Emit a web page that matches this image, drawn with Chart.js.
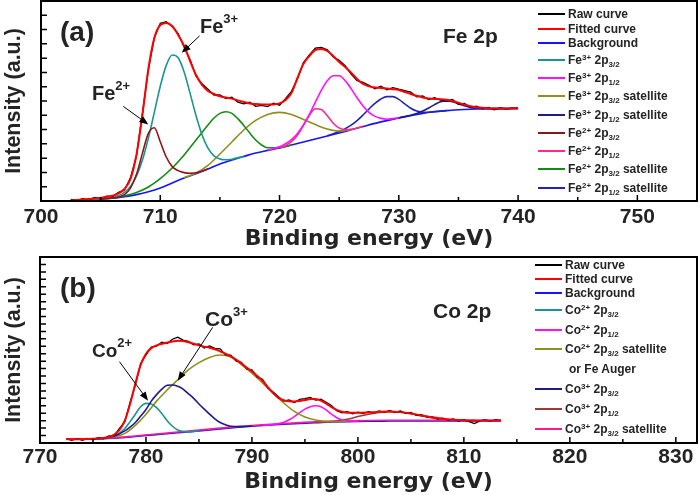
<!DOCTYPE html>
<html>
<head>
<meta charset="utf-8">
<script src="https://cdn.jsdelivr.net/npm/chart.js@4.4.1/dist/chart.umd.min.js"></script>
<style>
  body { margin: 0; background: #fff; }
  #page { position: relative; width: 700px; height: 495px; font-family: 'Liberation Sans', Arial, sans-serif; color: #242424; }
  canvas { position: absolute; left: 0; }
  .lbl { position: absolute; font-weight: bold; line-height: 1; white-space: nowrap; }
  .lbl sup { font-size: 13px; vertical-align: baseline; position: relative; top: -10px; }
  .legend { position: absolute; font-size: 12px; font-weight: bold; }
  .legend .row { display: flex; align-items: center; white-space: nowrap; }
  .legend .txt { line-height: 14px; }
  .legend .sw { width: 27px; height: 2px; margin-right: 3px; flex: none; }
  .legend sup, .legend sub { font-size: 8px; vertical-align: baseline; position: relative; line-height: 0; }
  .legend sup { top: -4px; }
  .legend sub { top: 3px; }
</style>
</head>
<body>
<div id="page">
  <canvas id="chartFe" width="700" height="252" style="top:0"></canvas>
  <canvas id="chartCo" width="700" height="243" style="top:252px"></canvas>

  <div class="lbl" style="left:60px;top:18px;font-size:28px">(a)</div>
  <div class="lbl" style="left:443px;top:25px;font-size:21px">Fe 2p</div>
  <div class="lbl" style="left:200px;top:16px;font-size:20px">Fe<sup>3+</sup></div>
  <div class="lbl" style="left:92px;top:83px;font-size:20px">Fe<sup>2+</sup></div>

  <div class="lbl" style="left:60px;top:274px;font-size:28px">(b)</div>
  <div class="lbl" style="left:433px;top:300px;font-size:21px">Co 2p</div>
  <div class="lbl" style="left:92px;top:341px;font-size:19px">Co<sup>2+</sup></div>
  <div class="lbl" style="left:205px;top:308px;font-size:21px">Co<sup>3+</sup></div>

  <div class="legend" id="legendFe" style="left:538px;top:7px"></div>
  <div class="legend" id="legendCo" style="left:535px;top:258px"></div>
</div>

<script>
// ---------- Fe 2p data (binding energy eV, intensity a.u.) ----------
const feRaw = [[702.5,0.8],[703,0.2],[703.5,1.2],[704,0.5],[704.5,1.8],[705,1.1],[705.5,2.4],[706,2.2],[706.5,4.3],[707,5.5],[707.5,11.6],[708,22.4],[708.5,43.6],[709,65.5],[709.5,81.6],[710,88.9],[710.5,89.6],[711,87.2],[711.5,83.7],[712,77],[712.5,70.6],[713,62.4],[713.5,58.6],[714,55.9],[714.5,53],[715,53.1],[715.5,51.2],[716,51.9],[716.5,49.4],[717,48.6],[717.5,49.4],[718,47.3],[718.5,47.8],[719,47.2],[719.5,48.9],[720,47.9],[720.5,51.2],[721,54.8],[721.5,61],[722,69.2],[722.5,73.1],[723,76.4],[723.5,76.8],[724,75.6],[724.5,72],[725,70.3],[725.5,67.6],[726,63.4],[726.5,60.2],[727,59.3],[727.5,57.9],[728,56.1],[728.5,57.4],[729,55.6],[729.5,56.7],[730,55.9],[730.5,55.2],[731,54.4],[731.5,52.1],[732,52.5],[732.5,50.7],[733,51.6],[733.5,50.5],[734,49.9],[734.5,50.8],[735,48.4],[735.5,48.8],[736,46.8],[736.5,47.4],[737,46.1],[737.5,46.8],[738,45.6],[738.5,46.6],[739,45.9],[739.5,46.5],[740,46.3]];
const feFit = [[702.5,0.3],[703,0.5],[704,1.0],[705,1.6],[706,2.6],[706.5,3.8],[707,6],[707.5,11],[708,23],[708.5,43],[709,66],[709.5,81.5],[710,88],[710.5,89],[711,87.5],[711.5,83],[712,77.5],[712.5,70],[713,63],[713.5,58],[714,55],[714.5,53.5],[715,52.3],[715.5,51.7],[716,51.2],[716.5,50.3],[717,49.5],[717.5,48.8],[718,48.5],[718.5,48.3],[719,48.2],[719.5,48.3],[720,48.8],[720.5,50.5],[721,54],[721.5,61.5],[722,68.5],[722.5,72.5],[723,75.5],[723.5,76],[724,75],[724.5,72.5],[725,69.5],[725.5,67],[726,64.2],[726.5,61],[727,58.5],[727.5,57.3],[728,56.8],[728.5,56.5],[729,56.2],[729.5,55.9],[730,55.5],[730.5,54.5],[731,53.5],[731.5,52.6],[732,51.8],[732.5,51.3],[733,51],[733.5,50.9],[734,50.6],[734.5,50],[735,49.1],[735.5,48.2],[736,47.4],[736.5,46.9],[737,46.6],[738,46.2],[739,46.2],[740,46.3]];
const feBg = [[702.5,0.3],[703,0.4],[704,0.6],[705,0.9],[706,1.4],[707,2.2],[708,3.2],[709,4.6],[710,6.5],[711,9],[712,11.5],[713,13.6],[714,16],[715,18.5],[716,20.5],[717,22.3],[718,24],[719,25.3],[720,26.5],[721,28],[722,29.5],[723,31],[724,32.5],[725,34],[726,35.6],[727,37.2],[728,38.8],[729,40.2],[730,41.5],[731,42.7],[732,43.8],[733,44.6],[734,45.2],[735,45.6],[736,45.9],[737,46.1],[738,46.2],[739,46.2],[740,46.3]];
const feFe3p32 = [[704,0.6],[705,1.0],[706,1.7],[706.5,2.7],[707,4.3],[707.5,7.3],[708,12.4],[708.5,20.4],[709,31.3],[709.5,44.3],[710,57.4],[710.5,67.8],[711,73],[711.5,71.6],[712,64.5],[712.5,53.8],[713,42.6],[713.5,33.1],[714,26.4],[714.5,22.6],[715,21],[715.5,20.6],[716,20.9],[717,22.3]];
const feFe3p12 = [[719,25.4],[720,27.1],[720.5,28.6],[721,30.7],[721.5,33.8],[722,38],[722.5,43.3],[723,49.4],[723.5,55.3],[724,60.1],[724.5,62.6],[725,62.6],[725.5,60.2],[726,56.2],[726.5,51.6],[727,47.5],[727.5,44.3],[728,42.3],[728.5,41.3],[729,40.9],[730,41.6]];
const feFe3sat32 = [[712,11.6],[713,14],[714,17.8],[715,23.5],[716,29.5],[717,35.5],[718,40.3],[719,43.3],[720,44.3],[721,43.3],[722,40.8],[723,38.2],[724,36],[725,35],[726,35.7]];
const feFe3sat12 = [[730,41.6],[730.5,42.2],[731,42.9],[731.5,43.8],[732,45],[732.5,46.5],[733,48.2],[733.5,49.6],[734,50],[734.5,49.6],[735,48.6],[735.5,47.6],[736,46.8],[736.5,46.4],[737,46.2],[738,46.2],[739,46.2],[740,46.3]];
const feFe2p32 = [[705,1.0],[706,1.5],[706.5,2.0],[707,3.2],[707.5,6.4],[708,13.2],[708.5,23.8],[709,33.8],[709.5,36.6],[710,29.6],[710.5,22],[711,17.2],[711.5,15.2],[712,14.2],[712.5,13.9],[713,14.1],[714,16]];
const feFe2p12 = [[720,26.6],[720.5,27.7],[721,29.7],[721.5,32.9],[722,37.8],[722.5,42.9],[723,46.1],[723.5,45.7],[724,42.6],[724.5,38.9],[725,36.5],[725.5,35.7],[726,35.8],[727,37.3]];
const feFe2sat32 = [[706,1.5],[707,2.6],[708,4.2],[709,7],[710,11.2],[711,16.5],[712,23],[713,30.5],[714,38],[714.5,41.5],[715,43.8],[715.5,44.6],[716,43.8],[716.5,41.2],[717,37.8],[717.5,34],[718,30.5],[718.5,28],[719,26.6],[720,26.7],[721,28.1]];
const feFe2sat12 = [[724,32.6],[725,34.7],[725.5,36.1],[726,37.9],[726.5,40.2],[727,43],[727.5,46],[728,48.8],[728.5,51],[729,52.2],[729.5,52.2],[730,50.8],[730.5,48.6],[731,46.4],[731.5,45],[732,44.4],[732.5,44.4],[733,44.7],[734,45.2]];

// ---------- Co 2p data ----------
const coRaw = [[772.5,2.4],[773,1.4],[773.5,2.3],[774,1.5],[774.5,2.5],[775,1.7],[775.5,2.9],[776,2.2],[776.5,3.8],[777,4.0],[777.5,7.8],[778,11.3],[778.5,21.8],[779,31.2],[779.5,42.7],[780,47.3],[780.5,51.6],[781,52.1],[781.5,54.2],[782,53.5],[782.5,55.8],[783,56.9],[783.5,55.3],[784,54.6],[784.5,52.8],[785,53.3],[785.5,51.1],[786,52.2],[786.5,50.9],[787,50.6],[787.5,47.4],[788,47.3],[788.5,44.1],[789,43.4],[789.5,39.8],[790,39.3],[790.5,35.4],[791,34.2],[791.5,29.5],[792,27.4],[792.5,24.9],[793,22.5],[793.5,23.2],[794,21.8],[794.5,23.4],[795,23.8],[795.5,24.5],[796,23.1],[796.5,23.5],[797,21.9],[797.5,20.2],[798,17.4],[798.5,16.2],[799,16.9],[799.5,15.7],[800,16.6],[800.5,15.8],[801,16.9],[801.5,16.2],[802,17.3],[802.5,16.5],[803,17.5],[803.5,16.4],[804,17.2],[804.5,15.9],[805,16.4],[805.5,14.9],[806,15.2],[806.5,13.9],[807,14.2],[807.5,12.9],[808,13.4],[808.5,12.3],[809,12.9],[809.5,11.8],[810,12.6],[810.5,11.5],[811,10.4],[811.5,11.9],[812,12.5],[812.5,11.8],[813,12.6],[813.5,12.1]];
const coFit = [[772.5,2.0],[773.5,2.0],[774.5,2.1],[775.5,2.4],[776,2.7],[776.5,3.2],[777,4.5],[777.5,7],[778,12],[778.5,21],[779,32],[779.5,42],[780,48],[780.5,51],[781,52.5],[781.5,53.4],[782,54],[782.5,54.6],[783,55],[783.5,54.8],[784,54.2],[784.5,53.4],[785,52.5],[785.5,51.8],[786,51.2],[786.5,50.4],[787,49.3],[787.5,48],[788,46.6],[788.5,44.8],[789,42.8],[789.5,40.5],[790,38.5],[790.5,36],[791,33.5],[791.5,30],[792,26.8],[792.5,24.3],[793,23],[793.5,22.4],[794,22.3],[794.5,22.6],[795,23.1],[795.5,23.6],[796,23.6],[796.5,22.8],[797,21.2],[797.5,19.3],[798,17.8],[798.5,16.8],[799,16.3],[800,16.2],[801,16.4],[802,16.7],[803,16.9],[804,16.6],[805,15.9],[806,14.8],[807,13.8],[808,13],[809,12.5],[810,12.2],[811,12.1],[813.5,12.1]];
const coBg = [[772.5,2],[775,2.1],[777,2.6],[779,3.5],[781,4.5],[783,5.5],[785,6.5],[787,7.6],[789,8.6],[791,9.4],[793,10.1],[795,10.7],[797,11.2],[799,11.5],[801,11.7],[803,11.8],[805,11.9],[807,11.9],[809,11.9],[811,11.9],[813.5,11.9]];
const coCo2p32 = [[774,2.1],[775,2.2],[776,2.5],[777,3.8],[777.5,5.3],[778,7.8],[778.5,11.5],[779,15.5],[779.5,19.5],[780,21.3],[780.5,21],[781,19],[781.5,15.8],[782,12],[782.5,9],[783,7],[783.5,6.2],[784,6],[785,6.6]];
const coCo2p12 = [[791,9.5],[792,9.9],[793,11.2],[793.5,12.5],[794,14.2],[794.5,16.3],[795,18.2],[795.5,19.5],[796,20],[796.5,19.5],[797,17.8],[797.5,15.5],[798,13.6],[798.5,12.3],[799,11.7],[800,11.7]];
const coCo2sat = [[775,2.2],[776,2.6],[777,3.3],[778,5.2],[779,9.5],[780,15.5],[781,22.5],[782,28.5],[783,34],[784,39.3],[785,43.2],[786,46],[787,47.3],[788,46.2],[789,42.2],[790,37.5],[791,32.3],[792,26.8],[793,21.5],[794,17],[795,14],[796,12.4],[797,11.6],[798,11.4],[799,11.6]];
const coCo3p32 = [[775,2.2],[776,2.6],[777,3.8],[777.5,5],[778,6.5],[778.5,8.5],[779,11],[779.5,14.5],[780,18],[780.5,22.5],[781,26],[781.5,29],[782,31],[782.5,31.2],[783,30.5],[783.5,29],[784,26.5],[784.5,24],[785,21],[785.5,18.2],[786,15.5],[786.5,13],[787,11],[787.5,9.8],[788,9],[789,8.8],[790,9.1]];
const coCo3p12 = [[796,11],[797,11.3],[798,11.8],[799,12.8],[800,14.2],[801,15.5],[802,16.4],[803,16.8],[804,16.5],[805,15.7],[806,14.6],[807,13.5],[808,12.8],[809,12.4],[810,12.2],[811,12.1]];
const coCo3sat = [[772.5,2.2],[775,2.3],[777,2.8],[779,3.8],[781,4.8],[783,5.9],[785,6.9],[787,8],[789,9],[791,9.8],[793,10.5],[795,11.1],[797,11.6],[799,11.9],[801,12.1],[803,12.2],[805,12.2],[807,12.2],[809,12.1],[811,12.1],[813.5,12.1]];

// axis ranges and annotation arrows (energy, intensity)
const feRange = [700, 755];
const coRange = [770, 832];
const feArrows = [[[713.3, 82.6], [711.8, 74.1]], [[706.9, 47.3], [709.0, 38.3]]];
const coArrows = [[[777.5, 43.7], [780.2, 22.7]], [[786.3, 62.2], [783.0, 33.5]]];

const feSeries = [
  { label: 'Raw curve', data: feRaw, color: '#000000', order: 1, width: 1.3, raw: true },
  { label: 'Fitted curve', data: feFit, color: '#ff0000', order: 0, width: 2 },
  { label: 'Background', data: feBg, color: '#1414ff', order: 12, width: 1.6 },
  { label: 'Fe<sup>3+</sup> 2p<sub>3/2</sub>', data: feFe3p32, color: '#1b9494', order: 3 },
  { label: 'Fe<sup>3+</sup> 2p<sub>1/2</sub>', data: feFe3p12, color: '#ff10ff', order: 4 },
  { label: 'Fe<sup>3+</sup> 2p<sub>3/2</sub> satellite', data: feFe3sat32, color: '#8f8f1e', order: 7 },
  { label: 'Fe<sup>3+</sup> 2p<sub>1/2</sub> satellite', data: feFe3sat12, color: '#1c1c8a', order: 8 },
  { label: 'Fe<sup>2+</sup> 2p<sub>3/2</sub>', data: feFe2p32, color: '#8e1616', order: 2 },
  { label: 'Fe<sup>2+</sup> 2p<sub>1/2</sub>', data: feFe2p12, color: '#ff2a8c', order: 5 },
  { label: 'Fe<sup>2+</sup> 2p<sub>3/2</sub> satellite', data: feFe2sat32, color: '#148c14', order: 6 },
  { label: 'Fe<sup>2+</sup> 2p<sub>1/2</sub> satellite', data: feFe2sat12, color: '#2424b4', order: 9 }
];

const coSeries = [
  { label: 'Raw curve', data: coRaw, color: '#000000', order: 1, width: 1.3, raw: true },
  { label: 'Fitted curve', data: coFit, color: '#ff0000', order: 0, width: 2 },
  { label: 'Background', data: coBg, color: '#1414ff', order: 12, width: 1.6 },
  { label: 'Co<sup>2+</sup> 2p<sub>3/2</sub>', data: coCo2p32, color: '#1b9494', order: 3 },
  { label: 'Co<sup>2+</sup> 2p<sub>1/2</sub>', data: coCo2p12, color: '#ff10ff', order: 5 },
  { label: 'Co<sup>2+</sup> 2p<sub>3/2</sub> satellite', data: coCo2sat, color: '#8f8f1e', order: 4, extra: 'or Fe Auger' },
  { label: 'Co<sup>3+</sup> 2p<sub>3/2</sub>', data: coCo3p32, color: '#1c1c8a', order: 2 },
  { label: 'Co<sup>3+</sup> 2p<sub>1/2</sub>', data: coCo3p12, color: '#a03a36', order: 6 },
  { label: 'Co<sup>3+</sup> 2p<sub>3/2</sub> satellite', data: coCo3sat, color: '#ff1a8c', order: 10 }
];

Chart.defaults.font.family = "'Liberation Sans', Arial, sans-serif";
Chart.defaults.color = '#242424';

// box around the plot, inward ticks and the arrows
const frameTicks = {
  id: 'frameTicks',
  afterDraw(chart, args, opts) {
    const { ctx, chartArea: a, scales: { x, y } } = chart;
    ctx.save();
    ctx.strokeStyle = '#000';
    ctx.lineWidth = 2;
    ctx.strokeRect(a.left, a.top, a.right - a.left, a.bottom - a.top);

    ctx.lineWidth = 1.5;
    ctx.beginPath();
    for (let v = x.min; v <= x.max; v += 5) {
      const px = x.getPixelForValue(v);
      const len = v % 10 === 0 ? 6 : 4;
      ctx.moveTo(px, a.bottom);
      ctx.lineTo(px, a.bottom - len);
    }
    y.ticks.forEach(t => {
      const py = y.getPixelForValue(t.value);
      ctx.moveTo(a.left, py);
      ctx.lineTo(a.left + opts.yLen, py);
    });
    ctx.stroke();

    ctx.lineWidth = 1;
    ctx.fillStyle = '#000';
    opts.arrows.forEach(([from, to]) => {
      const x1 = x.getPixelForValue(from[0]), y1 = y.getPixelForValue(from[1]);
      const x2 = x.getPixelForValue(to[0]), y2 = y.getPixelForValue(to[1]);
      const ang = Math.atan2(y2 - y1, x2 - x1);
      ctx.beginPath();
      ctx.moveTo(x1, y1);
      ctx.lineTo(x2 - 6 * Math.cos(ang), y2 - 6 * Math.sin(ang));
      ctx.stroke();
      ctx.beginPath();
      ctx.moveTo(x2, y2);
      ctx.lineTo(x2 - 9 * Math.cos(ang) + 3.5 * Math.sin(ang), y2 - 9 * Math.sin(ang) - 3.5 * Math.cos(ang));
      ctx.lineTo(x2 - 9 * Math.cos(ang) - 3.5 * Math.sin(ang), y2 - 9 * Math.sin(ang) + 3.5 * Math.cos(ang));
      ctx.closePath();
      ctx.fill();
    });
    ctx.restore();
  }
};

const buildDatasets = (series) => series.map(s => ({
  label: s.label,
  data: s.data.map(([e, v]) => ({ x: e, y: v })),
  borderColor: s.color,
  borderWidth: s.width || 1.6,
  pointRadius: 0,
  fill: false,
  order: s.order,
  tension: s.raw ? 0 : 0.4,
  cubicInterpolationMode: s.raw ? 'default' : 'monotone'
}));

const makeOptions = (range, yWidth, xHeight, tickPad, yStep, padTop, arrows) => ({
  responsive: false,
  animation: false,
  layout: { padding: { top: padTop, right: 3, left: 0, bottom: 0 } },
  plugins: { legend: { display: false }, tooltip: { enabled: false }, frameTicks: { arrows: arrows, yLen: 6 } },
  scales: {
    x: {
      type: 'linear', min: range[0], max: range[1],
      afterFit: (s) => { s.height = xHeight; },
      grid: { display: false, drawTicks: false },
      border: { display: false },
      ticks: { stepSize: 10, includeBounds: false, autoSkip: false, maxRotation: 0, padding: tickPad, color: '#242424', font: { size: 21, weight: 'bold' } },
      title: { display: true, text: 'Binding energy (eV)', color: '#242424', padding: 0, font: { family: "'DejaVu Sans'", size: 22, weight: 'bold' } }
    },
    y: {
      min: 0, max: 100,
      afterFit: (s) => { s.width = yWidth; },
      grid: { display: false, drawTicks: false },
      border: { display: false },
      ticks: { display: false, stepSize: yStep },
      title: { display: true, text: 'Intensity (a.u.)', color: '#242424', padding: { top: 1, bottom: 0 }, font: { size: 21.5, weight: 'bold' } }
    }
  }
});

new Chart(document.getElementById('chartFe'), {
  type: 'line',
  data: { datasets: buildDatasets(feSeries) },
  options: makeOptions(feRange, 41, 51, 4, 100 / 14, 1, feArrows),
  plugins: [frameTicks]
});

new Chart(document.getElementById('chartCo'), {
  type: 'line',
  data: { datasets: buildDatasets(coSeries) },
  options: makeOptions(coRange, 40, 52, 2, 4, 5, coArrows),
  plugins: [frameTicks]
});

// legends (html so sub/superscripts stay real text)
const fillLegend = (id, series, shortH, tallH) => {
  const box = document.getElementById(id);
  series.forEach(s => {
    const row = document.createElement('div');
    row.className = 'row';
    row.style.height = (s.label.includes('<sup>') ? tallH : shortH) + 'px';
    const sw = document.createElement('span');
    sw.className = 'sw';
    sw.style.background = s.color;
    const txt = document.createElement('span');
    txt.className = 'txt';
    txt.innerHTML = s.label;
    row.append(sw, txt);
    box.append(row);
    if (s.extra) {
      const more = document.createElement('div');
      more.className = 'row';
      more.style.height = tallH + 'px';
      more.style.paddingLeft = '34px';
      more.innerHTML = `<span class="txt">${s.extra}</span>`;
      box.append(more);
    }
  });
};
fillLegend('legendFe', feSeries, 14.5, 18.3);
fillLegend('legendCo', coSeries, 14, 19.8);
</script>
</body>
</html>
